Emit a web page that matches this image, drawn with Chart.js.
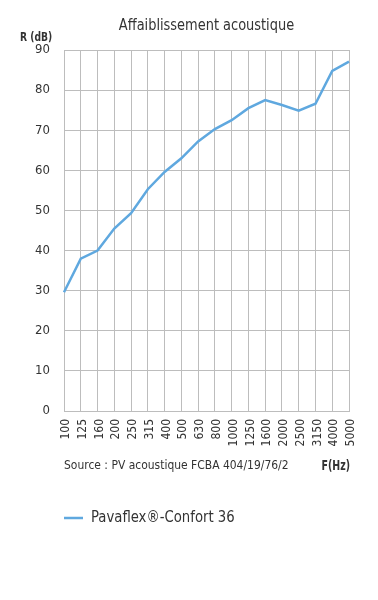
<!DOCTYPE html>
<html>
<head>
<meta charset="utf-8">
<script src="https://cdn.jsdelivr.net/npm/chart.js@4"></script>
<style>
  html, body { margin: 0; padding: 0; background: #fff; }
  #wrap { width: 378px; height: 600px; }
</style>
</head>
<body>
<div id="wrap"><canvas id="chart" width="378" height="600"></canvas></div>
<script>
const frequencies = ['100', '125', '160', '200', '250', '315', '400', '500', '630', '800', '1000', '1250', '1600', '2000', '2500', '3150', '4000', '5000']
const attenuation = [29.6, 38, 40, 45.5, 49.3, 55.3, 59.6, 63, 67.2, 70.3, 72.5, 75.5, 77.5, 76.3, 74.9, 76.6, 84.8, 87.1]
const seriesLabel = 'Pavaflex®-Confort 36'
const yMin = 0
const yMax = 90
const yStep = 10

const font = '"DejaVu Sans Condensed", "Liberation Sans Narrow", sans-serif'
const textColor = '#333333'
const gridColor = '#bdbdbd'
const lineColor = '#5fa8df'

// squeezed text, the original uses a condensed face
function text(ctx, str, x, y, align, squeeze) {
  ctx.save()
  ctx.translate(x, y)
  ctx.scale(squeeze, 1)
  ctx.textAlign = align
  ctx.fillText(str, 0, 0)
  ctx.restore()
}

// titles, source and legend drawn around the chart area
const extras = {
  id: 'extras',
  afterDraw(chart) {
    const ctx = chart.ctx
    const area = chart.chartArea
    ctx.save()
    ctx.fillStyle = textColor
    ctx.textBaseline = 'middle'

    ctx.font = '16px ' + font
    text(ctx, 'Affaiblissement acoustique', (area.left + area.right) / 2, 26, 'center', 0.9)

    ctx.font = 'bold 12px ' + font
    text(ctx, 'R (dB)', 20, 38, 'left', 0.85)

    ctx.font = '13px ' + font
    text(ctx, 'Source : PV acoustique FCBA 404/19/76/2', area.left, 466, 'left', 0.92)

    ctx.font = 'bold 14px ' + font
    text(ctx, 'F(Hz)', area.right + 1, 466, 'right', 0.75)

    const ds = chart.data.datasets[0]
    ctx.strokeStyle = ds.borderColor
    ctx.lineWidth = 2.5
    ctx.beginPath()
    ctx.moveTo(area.left, 518)
    ctx.lineTo(area.left + 19, 518)
    ctx.stroke()
    ctx.font = '16px ' + font
    text(ctx, ds.label, area.left + 27, 518, 'left', 0.92)
    ctx.restore()
  }
}

new Chart(document.getElementById('chart'), {
  type: 'line',
  data: {
    labels: frequencies,
    datasets: [{
      label: seriesLabel,
      data: attenuation,
      borderColor: lineColor,
      borderWidth: 2.5,
      pointRadius: 0,
      tension: 0,
      fill: false
    }]
  },
  options: {
    responsive: false,
    animation: false,
    layout: { padding: { left: 0, right: 29, top: 50, bottom: 0 } },
    plugins: {
      legend: { display: false },
      title: { display: false },
      tooltip: { enabled: false }
    },
    scales: {
      x: {
        offset: false,
        afterFit(scale) { scale.height = 189 },
        grid: { color: gridColor, lineWidth: 1, tickLength: 0, drawTicks: false },
        border: { color: gridColor },
        ticks: {
          color: textColor,
          font: { family: font, size: 12 },
          minRotation: 90,
          maxRotation: 90,
          autoSkip: false,
          padding: 8,
          labelOffset: 2
        }
      },
      y: {
        min: yMin,
        max: yMax,
        afterFit(scale) { scale.width = 64 },
        grid: { color: gridColor, lineWidth: 1, drawTicks: false },
        border: { color: gridColor },
        ticks: {
          stepSize: yStep,
          color: textColor,
          font: { family: font, size: 13 },
          padding: 14
        }
      }
    }
  },
  plugins: [extras]
})
</script>
</body>
</html>
